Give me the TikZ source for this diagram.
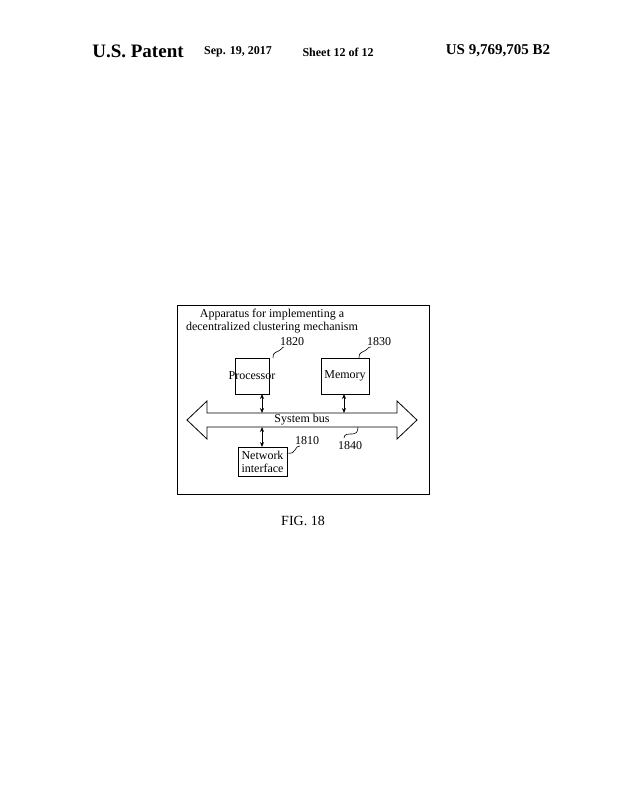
\documentclass[tikz,border=0pt]{standalone}
\usepackage{fontspec}
\setmainfont{Liberation Serif}
\usetikzlibrary{arrows.meta}
\begin{document}
\begin{tikzpicture}[x=1pt,y=-1pt,
  box/.style={draw,line width=0.8pt,inner sep=0pt},
  txt/.style={font=\fontsize{12}{13}\selectfont},
  dbl/.style={line width=0.8pt,{Stealth[length=5pt,width=4pt]}-{Stealth[length=5pt,width=4pt]}},
  sq/.style={line width=0.6pt}]
\useasboundingbox (0,0) rectangle (621,800);
\node[font=\bfseries\fontsize{19}{20}\selectfont] (h1) at (138,51) {U.S. Patent};
\node[font=\bfseries\fontsize{12}{13}\selectfont] (h2) at (238,52) {Sep. 19, 2017};
\node[font=\bfseries\fontsize{12}{13}\selectfont] (h3) at (338,52) {Sheet 12 of 12};
\node[font=\bfseries\fontsize{15}{16}\selectfont] (h4) at (498,51) {US 9,769,705 B2};
\draw[box] (177,305) rectangle (429,494);
\node[txt,align=center] (title) at (272,321) {Apparatus for implementing a\\decentralized clustering mechanism};
\node[box,minimum width=34pt,minimum height=36pt,txt] (proc) at (252,376) {};
\node[txt] at (proc) {Processor};
\node[box,minimum width=48pt,minimum height=36pt,txt] (mem) at (345,376) {Memory};
\node[box,minimum width=49pt,minimum height=29pt,txt,align=center] (net) at (262.5,461.5) {Network\\interface};
\draw[line width=0.8pt] (207,413) -- (397,413) -- (397,401) -- (417,420) -- (397,439) -- (397,427) -- (207,427) -- (207,439) -- (187,420) -- (207,401) -- cycle;
\node[txt] (bus) at (302,420) {System bus};
\coordinate (bt1) at (262,413); \coordinate (bt2) at (344,413); \coordinate (bb1) at (262,427);
\draw[dbl] (262,394) -- (bt1);
\draw[dbl] (344,394) -- (bt2);
\draw[dbl] (bb1) -- (262,447);
\node[txt] (l1820) at (292,342) {1820};
\node[txt] (l1830) at (379,342) {1830};
\node[txt] (l1810) at (307,441) {1810};
\node[txt] (l1840) at (350,446) {1840};
\draw[sq] (273,358) .. controls (272,352) and (278,352) .. (280,350) .. controls (283,348) and (283,346) .. (284,347);
\draw[sq] (359,358) .. controls (358,352) and (364,352) .. (366,350) .. controls (369,348) and (369,346) .. (371,347);
\draw[sq] (287,453) .. controls (292,454) and (294,452) .. (295,450) .. controls (296,447) and (298,446) .. (300,446);
\draw[sq] (344,438) .. controls (344,434) and (348,434) .. (352,434) .. controls (356,434) and (358,432) .. (358,427);
\node[font=\fontsize{14}{15}\selectfont] (fig) at (303,521) {FIG. 18};
\end{tikzpicture}
\end{document}
